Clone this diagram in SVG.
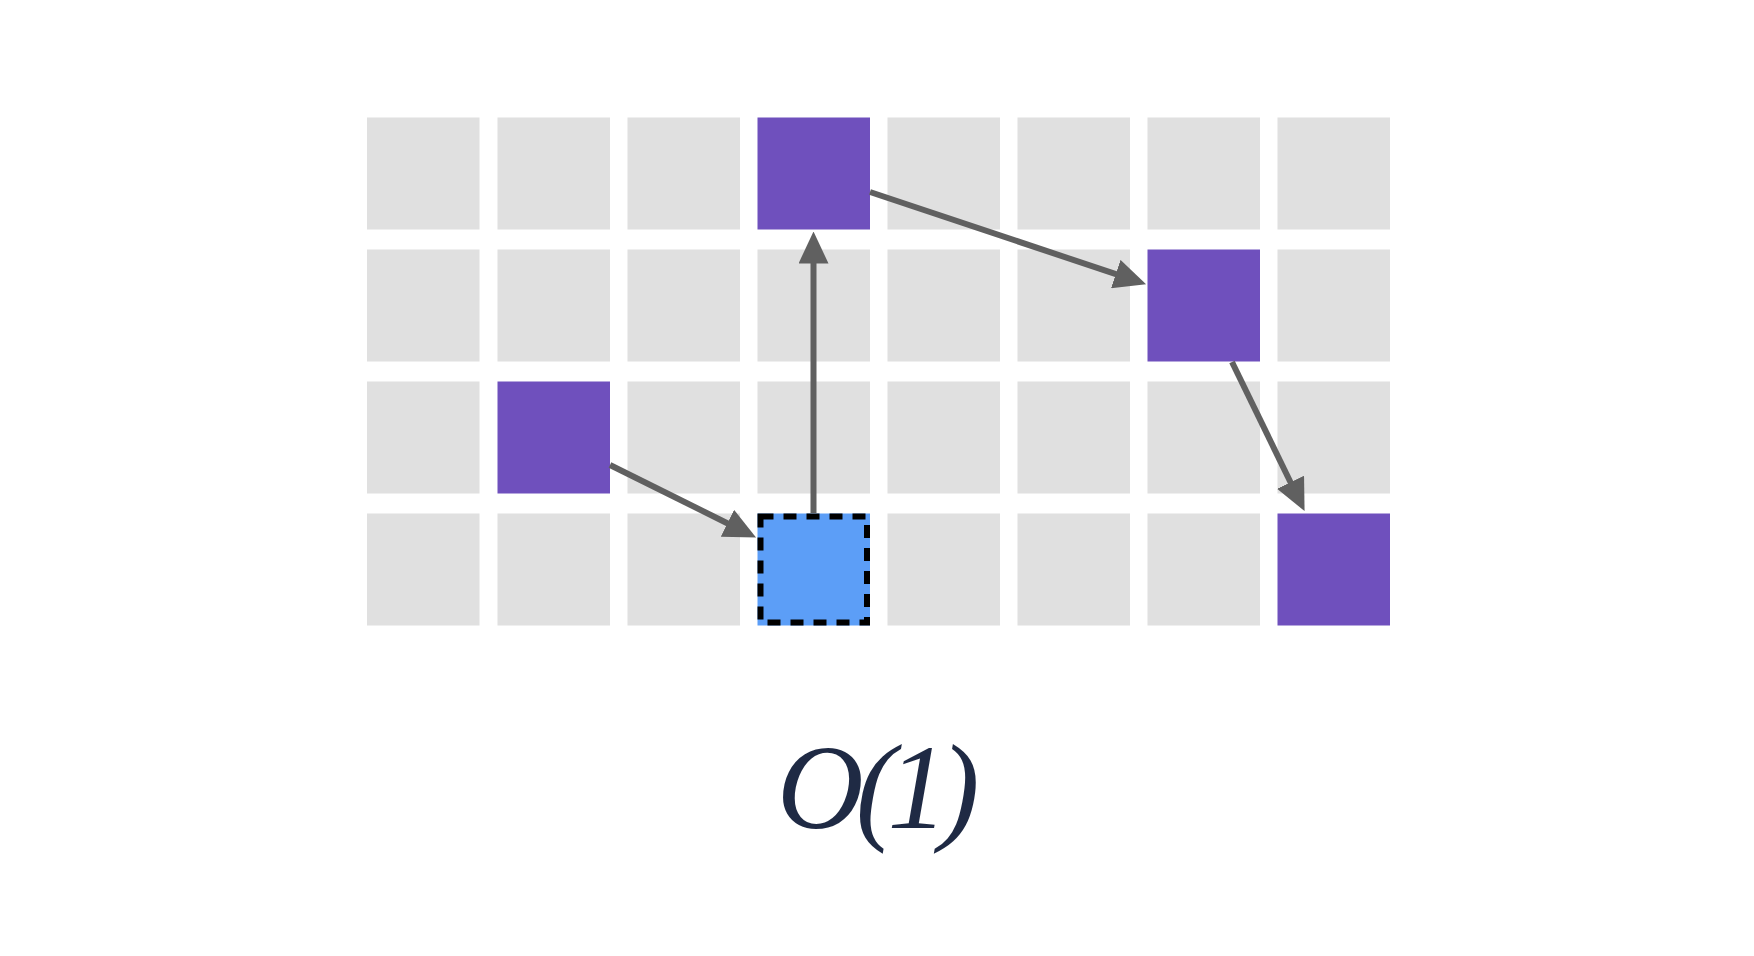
<svg xmlns="http://www.w3.org/2000/svg" width="1754" height="956" viewBox="0 0 1754 956">
<defs>
<style>
.cell{fill:#e0e0e0}
.hit{fill:#6f50bd}
.cur{fill:#5c9ef7}
.dash{fill:none;stroke:#000;stroke-width:6;stroke-dasharray:13 10}
.arr{stroke:#606060;stroke-width:6;fill:none;marker-end:url(#ah)}
.lbl{font-family:"Liberation Serif","Times New Roman",serif;font-style:italic;font-size:120px;fill:#1f2a44;letter-spacing:-8px}
</style>
<marker id="ah" markerUnits="userSpaceOnUse" markerWidth="32" markerHeight="30" refX="1" refY="15" orient="auto" viewBox="0 0 32 30">
<path d="M0,0 L32,15 L0,30 Z" fill="#606060"/>
</marker>
</defs>
<rect width="1754" height="956" fill="#fff"/>
<g id="grid">
<g id="row0">
<rect class="cell" x="367" y="117.5" width="112.5" height="112"/>
<rect class="cell" x="497.5" y="117.5" width="112.5" height="112"/>
<rect class="cell" x="627.5" y="117.5" width="112.5" height="112"/>
<rect class="cell" x="887.5" y="117.5" width="112.5" height="112"/>
<rect class="cell" x="1017.5" y="117.5" width="112.5" height="112"/>
<rect class="cell" x="1147.5" y="117.5" width="112.5" height="112"/>
<rect class="cell" x="1277.5" y="117.5" width="112.5" height="112"/>
</g>
<g id="row1">
<rect class="cell" x="367" y="249.5" width="112.5" height="112"/>
<rect class="cell" x="497.5" y="249.5" width="112.5" height="112"/>
<rect class="cell" x="627.5" y="249.5" width="112.5" height="112"/>
<rect class="cell" x="757.5" y="249.5" width="112.5" height="112"/>
<rect class="cell" x="887.5" y="249.5" width="112.5" height="112"/>
<rect class="cell" x="1017.5" y="249.5" width="112.5" height="112"/>
<rect class="cell" x="1277.5" y="249.5" width="112.5" height="112"/>
</g>
<g id="row2">
<rect class="cell" x="367" y="381.5" width="112.5" height="112"/>
<rect class="cell" x="627.5" y="381.5" width="112.5" height="112"/>
<rect class="cell" x="757.5" y="381.5" width="112.5" height="112"/>
<rect class="cell" x="887.5" y="381.5" width="112.5" height="112"/>
<rect class="cell" x="1017.5" y="381.5" width="112.5" height="112"/>
<rect class="cell" x="1147.5" y="381.5" width="112.5" height="112"/>
<rect class="cell" x="1277.5" y="381.5" width="112.5" height="112"/>
</g>
<g id="row3">
<rect class="cell" x="367" y="513.5" width="112.5" height="112"/>
<rect class="cell" x="497.5" y="513.5" width="112.5" height="112"/>
<rect class="cell" x="627.5" y="513.5" width="112.5" height="112"/>
<rect class="cell" x="887.5" y="513.5" width="112.5" height="112"/>
<rect class="cell" x="1017.5" y="513.5" width="112.5" height="112"/>
<rect class="cell" x="1147.5" y="513.5" width="112.5" height="112"/>
</g>
</g>
<g id="node-a"><rect class="hit" x="497.5" y="381.5" width="112.5" height="112"/></g>
<g id="node-current"><rect class="cur" x="757.5" y="513.5" width="112.5" height="112"/><rect class="dash" x="760.5" y="516.5" width="106.5" height="106"/></g>
<g id="node-b"><rect class="hit" x="757.5" y="117.5" width="112.5" height="112"/></g>
<g id="node-c"><rect class="hit" x="1147.5" y="249.5" width="112.5" height="112"/></g>
<g id="node-d"><rect class="hit" x="1277.5" y="513.5" width="112.5" height="112"/></g>
<g id="connectors">
<line class="arr" x1="610" y1="465" x2="728.3" y2="523.7"/>
<line class="arr" x1="813.5" y1="513" x2="813.5" y2="262.5"/>
<line class="arr" x1="870" y1="192" x2="1116.7" y2="274.4"/>
<line class="arr" x1="1232" y1="362" x2="1291" y2="483.2"/>
</g>
<text class="lbl" x="777" y="828">O(1)</text>
</svg>
